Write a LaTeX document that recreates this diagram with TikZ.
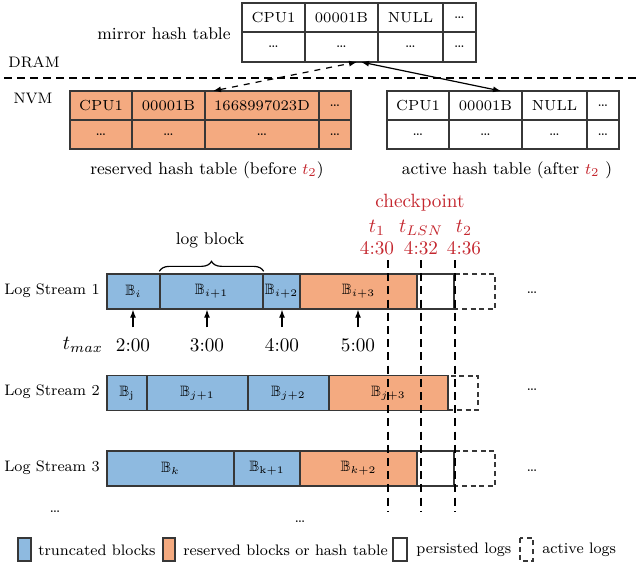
\documentclass[tikz,border=0pt]{standalone}
\usepackage{amssymb}
\usepackage{tikz}
\usetikzlibrary{decorations.pathreplacing}
\usetikzlibrary{arrows.meta}
\definecolor{truncblue}{RGB}{142,186,224}
\definecolor{resorange}{RGB}{244,170,128}
\definecolor{ckred}{RGB}{196,38,46}
\definecolor{edgegray}{RGB}{55,55,55}
\tikzset{
	cell/.style={draw=edgegray,line width=0.65pt},
	celltext/.style={inner sep=0pt,font=\fontsize{7.3}{8}\selectfont},
	blk/.style={draw=edgegray,line width=0.65pt,minimum height=17.5pt,inner sep=0pt,font=\fontsize{7.5}{8}\selectfont},
	actbox/.style={draw=edgegray,line width=0.65pt,dash pattern=on 2.5pt off 1.8pt},
	ckline/.style={draw=black,line width=0.9pt,dash pattern=on 4pt off 2.6pt},
	tick/.style={-{Latex[length=4pt,width=3pt]},line width=0.6pt,shorten <=2pt},
	smalltext/.style={font=\fontsize{7.6}{9}\selectfont},
	captext/.style={font=\fontsize{8.5}{10}\selectfont},
	timetext/.style={font=\fontsize{9.6}{11}\selectfont},
}

\begin{document}
\begin{tikzpicture}[x=0.5pt,y=-0.5pt]
	\useasboundingbox (0,0) rectangle (636,567);
	% tables
	\foreach \xa/\xb/\txt [count=\c] in {242/305/CPU1,305/378/00001B,378/443/NULL,443/476/\dots}{
		\draw[cell] (\xa,3) rectangle (\xb,32);
		\draw[cell] (\xa,32) rectangle (\xb,62);
		\node[celltext] (mirA\c) at ({(\xa+\xb)/2},17.5) {\txt};
		\node[celltext] (mirB\c) at ({(\xa+\xb)/2},47) {\dots};
	}
	\foreach \xa/\xb/\txt [count=\c] in {70/132/CPU1,132/205/00001B,205/319/1668997023D,319/351/\dots}{
		\filldraw[cell,fill=resorange] (\xa,91) rectangle (\xb,120);
		\filldraw[cell,fill=resorange] (\xa,120) rectangle (\xb,149);
		\node[celltext] (resA\c) at ({(\xa+\xb)/2},105.5) {\txt};
		\node[celltext] (resB\c) at ({(\xa+\xb)/2},134.5) {\dots};
	}
	\foreach \xa/\xb/\txt [count=\c] in {387/449/CPU1,449/522/00001B,522/587/NULL,587/619/\dots}{
		\draw[cell] (\xa,91) rectangle (\xb,120);
		\draw[cell] (\xa,120) rectangle (\xb,149);
		\node[celltext] (actA\c) at ({(\xa+\xb)/2},105.5) {\txt};
		\node[celltext] (actB\c) at ({(\xa+\xb)/2},134.5) {\dots};
	}
	\node[captext] (mirlab) at (164,34) {mirror hash table};
	\node[captext] (reslab) at (207,170) {reserved hash table (before {\color{ckred}$t_2$})};
	\node[captext] (actlab) at (507,170) {active hash table (after {\color{ckred}$t_2$} )};
	\node[smalltext] (dram) at (34,62) {DRAM};
	\node[smalltext] (nvm) at (33,98) {NVM};
	\draw[line width=1pt,dash pattern=on 4pt off 2.5pt] (4,78) -- (636,78);
	\coordinate (mirL) at (357,62);
	\coordinate (mirR) at (361,62);
	\coordinate (resT) at (213,91);
	\coordinate (actT) at (501,91);
	\draw[dashed,line width=0.6pt,{Latex[length=4pt,width=3pt]}-{Latex[length=4pt,width=3pt]}] (resT) -- (mirL);
	\draw[line width=0.6pt,{Latex[length=4pt,width=3pt]}-{Latex[length=4pt,width=3pt]}] (mirR) -- (actT);
	% log streams
	\foreach \xa/\xb/\col/\lab [count=\c] in {107/160/truncblue/{$\mathbb{B}_i$},160/263/truncblue/{$\mathbb{B}_{i+1}$},263/300/truncblue/{$\mathbb{B}_{i+2}$},300/417/resorange/{$\mathbb{B}_{i+3}$}}{
		\node[blk,fill=\col,minimum width={(\xb-\xa)*0.5pt}] (sA\c) at ({(\xa+\xb)/2},291.5) {\lab};
	}
	\foreach \xa/\xb/\col/\lab [count=\c] in {107/147/truncblue/{$\mathbb{B}_{\mathrm{j}}$},147/248/truncblue/{$\mathbb{B}_{j+1}$},248/329/truncblue/{$\mathbb{B}_{j+2}$},329/448/resorange/{$\mathbb{B}_{j+3}$}}{
		\node[blk,fill=\col,minimum width={(\xb-\xa)*0.5pt}] (sB\c) at ({(\xa+\xb)/2},393) {\lab};
	}
	\foreach \xa/\xb/\col/\lab [count=\c] in {107/234/truncblue/{$\mathbb{B}_k$},234/300/truncblue/{$\mathbb{B}_{\mathrm{k+1}}$},300/417/resorange/{$\mathbb{B}_{k+2}$}}{
		\node[blk,fill=\col,minimum width={(\xb-\xa)*0.5pt}] (sC\c) at ({(\xa+\xb)/2},468.5) {\lab};
	}
	\draw[cell] (417,274) rectangle (454,309);
	\draw[actbox] (454,274) rectangle (495,309);
	\draw[actbox] (448,376) rectangle (478,410);
	\draw[cell] (417,451) rectangle (454,486);
	\draw[actbox] (454,451) rectangle (495,486);
	\node[smalltext] (ls1) at (52,291) {Log Stream 1};
	\node[smalltext] (ls2) at (52,392) {Log Stream 2};
	\node[smalltext] (ls3) at (52,468) {Log Stream 3};
	\node[smalltext] (more1) at (532,293) {\dots};
	\node[smalltext] (more2) at (532,390) {\dots};
	\node[smalltext] (more3) at (532,471) {\dots};
	\node[smalltext] (more4) at (55,512) {\dots};
	\node[smalltext] (more5) at (300,522) {\dots};
	\draw[decorate,decoration={brace,amplitude=5pt,raise=1pt},line width=0.6pt] (sA2.north west) -- (sA2.north east);
	\node[captext] (logblk) at (210,240) {log block};
	% t_max
	\node[timetext] (tmax) at (83,345) {$t_{max}$};
	\foreach \x/\t [count=\c] in {133/2:00,207/3:00,282/4:00,358/5:00}{
		\node[timetext] (tm\c) at (\x,345) {\t};
		\draw[tick] (tm\c.north) -- (tm\c.north |- sA1.south);
	}
	% checkpoint
	\node[timetext,text=ckred] (ckp) at (420,203) {checkpoint};
	\node[timetext,text=ckred] (ckA) at (377,228) {$t_1$};
	\node[timetext,text=ckred] (ckB) at (421,228) {$t_{LSN}$};
	\node[timetext,text=ckred] (ckC) at (464,228) {$t_2$};
	\node[timetext,text=ckred] (ckAt) at (377,248) {4:30};
	\node[timetext,text=ckred] (ckBt) at (421,248) {4:32};
	\node[timetext,text=ckred] (ckCt) at (464,248) {4:36};
	\foreach \x in {388,421,455}{
		\draw[ckline] (\x,260) -- (\x,512);
	}
	% legend
	\filldraw[cell,fill=truncblue] (18,538) rectangle (31,561);
	\node[smalltext,anchor=west,inner sep=0pt] (lgA) at (38,550) {truncated blocks};
	\filldraw[cell,fill=resorange] (163,538) rectangle (175,561);
	\node[smalltext,anchor=west,inner sep=0pt] (lgB) at (183,550) {reserved blocks or hash table};
	\draw[cell] (393,538) rectangle (407,561);
	\node[smalltext,anchor=west,inner sep=0pt] (lgC) at (416,550) {persisted logs};
	\draw[actbox] (520,538) rectangle (533,561);
	\node[smalltext,anchor=west,inner sep=0pt] (lgD) at (542,550) {active logs};
\end{tikzpicture}
\end{document}
